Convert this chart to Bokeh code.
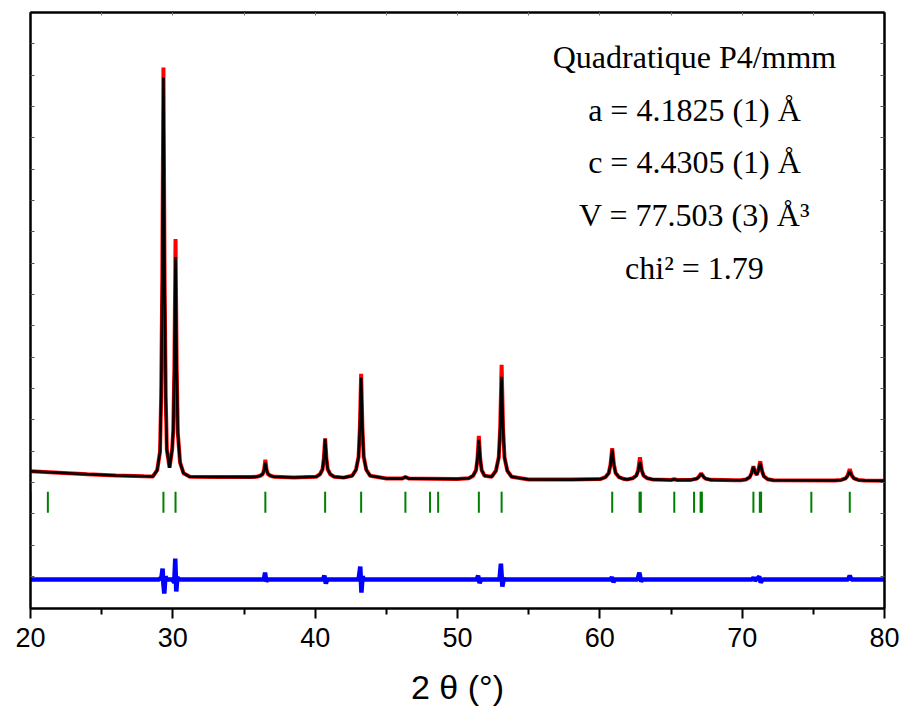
from bokeh.plotting import figure
from bokeh.models import Range1d, LinearAxis, FixedTicker, Label, CustomLabelingPolicy
from bokeh.embed import file_html
from bokeh.resources import INLINE

# ---------------- data ----------------
two_theta = [20.00, 22.00, 24.00, 26.00, 28.00, 28.60, 28.90, 29.10, 29.18, 29.26,
             29.34, 29.42, 29.50, 29.58, 29.77, 29.95, 30.03, 30.11, 30.19, 30.27,
             30.35, 30.51, 30.75, 31.20, 33.00, 35.50, 35.87, 36.14, 36.32, 36.41,
             36.50, 36.59, 36.68, 36.86, 37.13, 38.50, 40.07, 40.34, 40.52, 40.61,
             40.70, 40.79, 40.88, 41.06, 41.33, 42.00, 42.60, 42.87, 43.05, 43.14,
             43.23, 43.32, 43.41, 43.59, 43.86, 45.00, 46.10, 46.34, 46.60, 48.00,
             50.00, 50.80, 51.10, 51.30, 51.40, 51.50, 51.60, 51.70, 51.90, 52.40,
             52.70, 52.90, 53.00, 53.10, 53.20, 53.30, 53.50, 53.80, 55.00, 58.00,
             60.03, 60.39, 60.63, 60.75, 60.87, 60.99, 61.11, 61.35, 61.71, 61.95,
             62.30, 62.56, 62.69, 62.82, 62.95, 63.08, 63.34, 63.70, 65.00, 65.23,
             65.45, 66.40, 66.82, 66.96, 67.12, 67.28, 67.42, 67.80, 69.50, 69.90,
             70.27, 70.53, 70.66, 70.79, 70.92, 71.03, 71.14, 71.27, 71.40, 71.53,
             71.79, 72.20, 76.50, 76.96, 77.26, 77.41, 77.56, 77.71, 77.86, 78.16,
             78.60, 80.00]

y_calc = [2170, 2140, 2110, 2085, 2068, 2065, 2190, 2560, 3660, 6060,
          10060, 6060, 3660, 2600, 2240, 2600, 2990, 4290, 6460, 4260,
          2940, 2340, 2130, 2058, 2055, 2052, 2058, 2080, 2115, 2195,
          2340, 2195, 2115, 2080, 2058, 2045, 2060, 2110, 2210, 2430,
          2820, 2430, 2210, 2110, 2060, 2042, 2080, 2200, 2460, 3035,
          4040, 3035, 2460, 2200, 2080, 2025, 2022, 2055, 2022, 2018,
          2013, 2030, 2080, 2190, 2405, 2800, 2405, 2190, 2080, 2060,
          2180, 2450, 3035, 4060, 3035, 2450, 2180, 2060, 2005, 2002,
          2012, 2050, 2135, 2300, 2600, 2300, 2135, 2050, 2012, 2006,
          2028, 2080, 2180, 2360, 2180, 2080, 2028, 2006, 1995, 2010,
          1995, 1996, 2022, 2060, 2120, 2060, 2022, 1997, 1988, 1990,
          2006, 2050, 2130, 2260, 2140, 2100, 2190, 2333, 2170, 2065,
          2010, 1990, 1983, 1995, 2025, 2080, 2167, 2080, 2025, 1995,
          1983, 1980]

y_obs = [2170, 2140, 2110, 2085, 2068, 2065, 2190, 2560, 3660, 6060,
         10260, 6060, 3660, 2600, 2240, 2600, 2990, 4290, 6820, 4260,
         2940, 2340, 2130, 2058, 2055, 2052, 2058, 2080, 2115, 2195,
         2400, 2195, 2115, 2080, 2058, 2045, 2060, 2110, 2210, 2430,
         2830, 2430, 2210, 2110, 2060, 2042, 2080, 2200, 2460, 3035,
         4120, 3035, 2460, 2200, 2080, 2025, 2022, 2055, 2022, 2018,
         2013, 2030, 2080, 2190, 2405, 2880, 2405, 2190, 2080, 2060,
         2180, 2450, 3035, 4300, 3035, 2450, 2180, 2060, 2005, 2002,
         2012, 2050, 2135, 2300, 2630, 2300, 2135, 2050, 2012, 2006,
         2028, 2080, 2180, 2450, 2180, 2080, 2028, 2006, 1995, 2010,
         1995, 1996, 2022, 2060, 2125, 2060, 2022, 1997, 1988, 1990,
         2006, 2050, 2130, 2270, 2140, 2100, 2190, 2370, 2170, 2065,
         2010, 1990, 1983, 1995, 2025, 2080, 2213, 2080, 2025, 1995,
         1983, 1980]

diff_x = [20.00, 29.00, 29.20, 29.28, 29.34, 29.40, 29.48, 29.60, 29.95, 30.10,
          30.17, 30.24, 30.32, 30.45, 36.40, 36.48, 36.56, 36.65, 40.55, 40.65,
          40.75, 40.85, 43.05, 43.17, 43.25, 43.33, 43.45, 51.35, 51.45, 51.55,
          51.65, 52.95, 53.05, 53.15, 53.25, 53.35, 60.75, 60.85, 60.95, 61.05,
          62.65, 62.78, 62.90, 63.00, 70.70, 70.80, 70.90, 71.20, 71.30, 71.45,
          77.45, 77.56, 77.68, 80.00]
diff_y = [0, 0, 40, 220, -100, -280, 60, 0, 0, -60,
          420, -240, 40, 0, 0, 140, -40, 0, 0, 80,
          -80, 0, 0, 260, -260, 60, 0, 0, 80, -70,
          0, 0, 320, -140, 20, 0, 0, 50, -50, 0,
          0, 140, -40, 0, 0, 40, -20, 60, -60, 0,
          0, 80, 0, 0]

bragg = [20.02, 21.22, 29.34, 30.19, 36.50, 40.70, 43.23, 46.34, 48.07, 48.64,
         51.50, 53.10, 60.87, 62.79, 62.88, 65.23, 66.62, 67.08, 67.17, 70.79,
         71.24, 71.33, 74.86, 77.56]

x_ticks = [20, 30, 40, 50, 60, 70, 80]
x_minor = [25, 35, 45, 55, 65, 75]
x_top_ticks = [20, 25, 30, 35, 40, 45, 50, 55, 60, 65, 70, 75, 80]
y_side_ticks = [10734 - 628 * k for k in range(18)]

info_lines = ["Quadratique P4/mmm", "a = 4.1825 (1) Å", "c = 4.4305 (1) Å",
              "V = 77.503 (3) Å³", "chi² = 1.79"]

# ---------------- figure ----------------
p = figure(width=904, height=715, output_backend="svg", toolbar_location=None,
           x_range=Range1d(20, 80), y_range=Range1d(-580, 11360),
           min_border_left=30, min_border_right=20, min_border_top=12,
           min_border_bottom=107)
p.grid.visible = False
p.background_fill_color = "white"
p.border_fill_color = "white"
p.outline_line_color = "black"
p.outline_line_width = 2

no_labels = CustomLabelingPolicy(code="return new Set()")

# bottom axis
xa = p.xaxis[0]
xa.ticker = FixedTicker(ticks=x_ticks, minor_ticks=x_minor)
xa.axis_line_width = 2
xa.major_tick_line_width = 2
xa.minor_tick_line_width = 2
xa.major_tick_in = 0
xa.major_tick_out = 10
xa.minor_tick_in = 0
xa.minor_tick_out = 6
xa.major_label_text_font = "Liberation Sans"
xa.major_label_text_font_size = "27px"
xa.major_label_text_color = "black"
xa.major_label_standoff = 9
xa.axis_label = "2 θ (°)"
xa.axis_label_text_font = "Liberation Sans"
xa.axis_label_text_font_size = "34px"
xa.axis_label_text_font_style = "normal"
xa.axis_label_text_color = "black"
xa.axis_label_standoff = 18

# left axis (no labels, small inner ticks)
ya = p.yaxis[0]
ya.ticker = FixedTicker(ticks=y_side_ticks, minor_ticks=[])
ya.axis_line_width = 2
ya.major_tick_in = 4
ya.major_tick_out = 0
ya.major_tick_line_color = "#555555"
ya.major_label_policy = no_labels
ya.major_label_text_font_size = "1px"
ya.major_label_standoff = 0

# right & top axes
ra = LinearAxis(ticker=FixedTicker(ticks=y_side_ticks, minor_ticks=[]),
                axis_line_width=2, major_tick_in=4, major_tick_out=0,
                major_tick_line_color="#555555",
                major_label_policy=CustomLabelingPolicy(code="return new Set()"),
                major_label_text_font_size="1px", major_label_standoff=0)
p.add_layout(ra, "right")
ta = LinearAxis(ticker=FixedTicker(ticks=x_top_ticks, minor_ticks=[]),
                axis_line_width=2, major_tick_in=3, major_tick_out=0,
                major_tick_line_color="#777777",
                major_label_policy=CustomLabelingPolicy(code="return new Set()"),
                major_label_text_font_size="1px", major_label_standoff=0)
p.add_layout(ta, "above")

# curves
p.line(two_theta, y_obs, line_color="#ff0000", line_width=4)
p.line(two_theta, y_calc, line_color="black", line_width=2.6)
p.line(diff_x, diff_y, line_color="#0000ff", line_width=4.5)
p.segment(x0=bragg, y0=1340, x1=bragg, y1=1760, line_color="#008000", line_width=2)

# annotation text
label_x = 66.65
label_y = [10460, 9400, 8360, 7300, 6240]
for txt, yy in zip(info_lines, label_y):
    p.add_layout(Label(x=label_x, y=yy, text=txt, text_align="center",
                       text_baseline="middle", text_font="Liberation Serif",
                       text_font_size="32px", text_color="black"))

open("out.html", "w").write(file_html(p, INLINE))
